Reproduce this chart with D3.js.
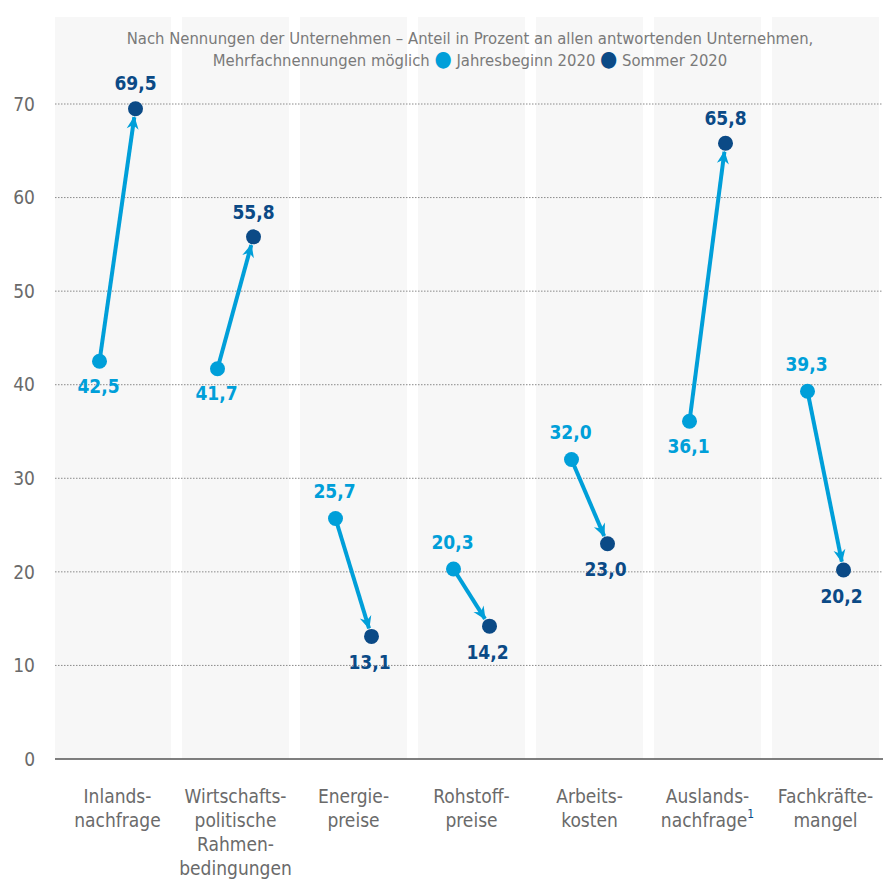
<!DOCTYPE html>
<html>
<head>
<meta charset="utf-8">
<script src="https://d3js.org/d3.v7.min.js"></script>
<style>
  body { margin: 0; background: #fff; }
  svg { font-family: "DejaVu Sans Condensed", "Roboto", sans-serif; }
  .tick-label { fill: #6a6a6a; font-size: 19px; }
  .cat { fill: #6a6a6a; font-size: 19px; }
  .val { font-size: 19px; font-weight: bold; }
  .note { fill: #7a7a7a; font-size: 16.5px; }
</style>
</head>
<body>
<script>

// data
var categories = ["Inlandsnachfrage", "Wirtschaftspolitische Rahmenbedingungen", "Energiepreise",
                  "Rohstoffpreise", "Arbeitskosten", "Auslandsnachfrage", "Fachkräftemangel"];
var catLines = [["Inlands-", "nachfrage"], ["Wirtschafts-", "politische", "Rahmen-", "bedingungen"],
                ["Energie-", "preise"], ["Rohstoff-", "preise"], ["Arbeits-", "kosten"],
                ["Auslands-", "nachfrage"], ["Fachkräfte-", "mangel"]];
var jahresbeginn = [42.5, 41.7, 25.7, 20.3, 32.0, 36.1, 39.3];
var sommer = [69.5, 55.8, 13.1, 14.2, 23.0, 65.8, 20.2];
var yTicks = [0, 10, 20, 30, 40, 50, 60, 70];

var light = "#009fd9", dark = "#0b4a86";

var width = 883, height = 881;
var svg = d3.select("body").append("svg")
    .attr("width", width).attr("height", height);

var x = d3.scaleBand()
    .domain(categories)
    .range([58, 885])
    .paddingInner(11 / 118)
    .paddingOuter(6 / 118);

var y = d3.scaleLinear()
    .domain([0, 70])
    .range([759, 104]);

var fmt = function(v) { return d3.format(".1f")(v).replace(".", ","); };

// background stripes
svg.append("g").selectAll("rect")
    .data(categories)
    .enter().append("rect")
    .attr("x", function(d, i) { return i === 0 ? 55 : x(d); })
    .attr("width", function(d, i) { return i === 0 ? x(d) + x.bandwidth() - 55 : x.bandwidth(); })
    .attr("y", 17)
    .attr("height", y(0) - 17)
    .style("fill", "#f7f7f7");

// grid lines
svg.append("g").selectAll("line")
    .data(yTicks.filter(function(t) { return t > 0; }))
    .enter().append("line")
    .attr("x1", 55).attr("x2", width)
    .attr("y1", function(d) { return y(d); })
    .attr("y2", function(d) { return y(d); })
    .style("stroke", "#8a8a8a")
    .style("stroke-width", 1)
    .style("stroke-dasharray", "1.5,1.5");

svg.append("line")
    .attr("x1", 55).attr("x2", width)
    .attr("y1", y(0)).attr("y2", y(0))
    .style("stroke", "#555").style("stroke-width", 1.5);

// y labels
svg.append("g").selectAll("text")
    .data(yTicks)
    .enter().append("text")
    .attr("class", "tick-label")
    .attr("x", 35)
    .attr("y", function(d) { return y(d); })
    .attr("dy", "0.35em")
    .style("text-anchor", "end")
    .text(function(d) { return d; });

// category labels
var catG = svg.append("g").selectAll("text")
    .data(categories)
    .enter().append("text")
    .attr("class", "cat")
    .attr("x", function(d) { return x(d) + x.bandwidth() / 2; })
    .attr("y", 803)
    .style("text-anchor", "middle");

catG.each(function(d, i) {
    var t = d3.select(this);
    catLines[i].forEach(function(line, j) {
        t.append("tspan")
            .attr("x", x(d) + x.bandwidth() / 2)
            .attr("dy", j === 0 ? 0 : 24)
            .text(line);
    });
});
// footnote marker
catG.filter(function(d) { return d === "Auslandsnachfrage"; })
    .append("tspan")
    .attr("dy", -9)
    .style("font-size", "12px")
    .style("fill", dark)
    .text("1");

// arrow marker
svg.append("defs").append("marker")
    .attr("id", "arrow")
    .attr("viewBox", "-13 -7 15 14")
    .attr("refX", 0).attr("refY", 0)
    .attr("markerWidth", 15).attr("markerHeight", 14)
    .attr("markerUnits", "userSpaceOnUse")
    .attr("orient", "auto")
    .append("path")
    .attr("d", "M1,0 L-12,-6 L-8,0 L-12,6 Z")
    .style("fill", light);

var off = 18, r = 7.5;
var pts = categories.map(function(c, i) {
    var cx = x(c) + x.bandwidth() / 2;
    return { c: c, x0: cx - off, y0: y(jahresbeginn[i]), x1: cx + off, y1: y(sommer[i]),
             v0: jahresbeginn[i], v1: sommer[i] };
});

// arrows
svg.append("g").selectAll("line")
    .data(pts)
    .enter().append("line")
    .attr("x1", function(d) { return d.x0; })
    .attr("y1", function(d) { return d.y0; })
    .attr("x2", function(d) {
        var dx = d.x1 - d.x0, dy = d.y1 - d.y0, L = Math.sqrt(dx * dx + dy * dy);
        return d.x1 - dx / L * (r + 1);
    })
    .attr("y2", function(d) {
        var dx = d.x1 - d.x0, dy = d.y1 - d.y0, L = Math.sqrt(dx * dx + dy * dy);
        return d.y1 - dy / L * (r + 1);
    })
    .style("stroke", light)
    .style("stroke-width", 4)
    .attr("marker-end", "url(#arrow)");

// dots
var dots = svg.append("g");
dots.selectAll(".d0").data(pts).enter().append("circle")
    .attr("cx", function(d) { return d.x0; })
    .attr("cy", function(d) { return d.y0; })
    .attr("r", r).style("fill", light);
dots.selectAll(".d1").data(pts).enter().append("circle")
    .attr("cx", function(d) { return d.x1; })
    .attr("cy", function(d) { return d.y1; })
    .attr("r", r).style("fill", dark);

// value labels
var vals = svg.append("g");
vals.selectAll(".l0").data(pts).enter().append("text")
    .attr("class", "val")
    .attr("x", function(d) { return d.x0 - 1; })
    .attr("y", function(d) { return d.v1 > d.v0 ? d.y0 + 25 : d.y0 - 27; })
    .attr("dy", "0.35em")
    .style("text-anchor", "middle")
    .style("fill", light)
    .text(function(d) { return fmt(d.v0); });
vals.selectAll(".l1").data(pts).enter().append("text")
    .attr("class", "val")
    .attr("x", function(d) { return d.v1 > d.v0 ? d.x1 : d.x1 - 2; })
    .attr("y", function(d) { return d.v1 > d.v0 ? d.y1 - 25 : d.y1 + 26; })
    .attr("dy", "0.35em")
    .style("text-anchor", "middle")
    .style("fill", dark)
    .text(function(d) { return fmt(d.v1); });

// note + legend
svg.append("text").attr("class", "note")
    .attr("x", 470).attr("y", 44)
    .style("text-anchor", "middle")
    .text("Nach Nennungen der Unternehmen – Anteil in Prozent an allen antwortenden Unternehmen,");

var leg = svg.append("text").attr("class", "note")
    .attr("x", 470).attr("y", 66)
    .style("text-anchor", "middle");
leg.append("tspan").text("Mehrfachnennungen möglich  ");
leg.append("tspan").style("fill", light).style("font-size", "22px").text("●");
leg.append("tspan").text("  Jahresbeginn 2020    ");
leg.append("tspan").style("fill", dark).style("font-size", "22px").text("●");
leg.append("tspan").text("  Sommer 2020");

</script>
</body>
</html>
